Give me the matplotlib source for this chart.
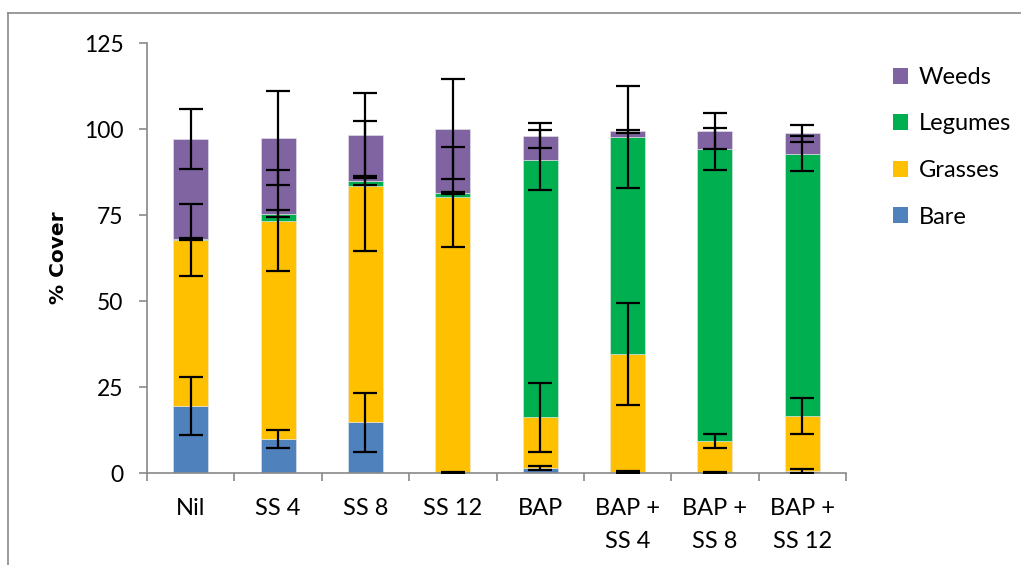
'''
Stacked ground cover by treatment, with standard error bars
on the top of each cover class.
'''

import numpy as np
import matplotlib.pyplot as plt
from matplotlib.lines import Line2D
from matplotlib.patches import Patch
from matplotlib.font_manager import FontProperties

plt.rcParams['font.family'] = ['Lato', 'DejaVu Sans']

categories = ["Nil", "SS 4", "SS 8", "SS 12", "BAP",
              "BAP +\nSS 4", "BAP +\nSS 8", "BAP +\nSS 12"]

# mean % cover of each class (stacked bottom to top)
bare = [19.5, 9.9, 14.7, 0.1, 1.4, 0.3, 0.1, 0.6]
grasses = [48.2, 63.5, 68.7, 80.2, 14.8, 34.2, 9.1, 15.9]
legumes = [0.3, 2.0, 1.6, 1.0, 74.9, 63.2, 84.9, 76.3]
weeds = [29.1, 21.9, 13.2, 18.6, 7.0, 1.6, 5.3, 5.9]

# standard errors
bare_err = [8.5, 2.7, 8.7, 0.1, 0.6, 0.3, 0.1, 0.6]
grasses_err = [10.5, 14.6, 19.0, 14.5, 10.1, 14.8, 2.0, 5.2]
legumes_err = [0.3, 1.1, 1.2, 0.3, 8.7, 14.9, 6.1, 5.1]
weeds_err = [8.7, 13.7, 12.3, 14.5, 3.6, 0.5, 5.2, 2.6]

series = [("Bare", bare, bare_err, '#4F81BD'),
          ("Grasses", grasses, grasses_err, '#FFC000'),
          ("Legumes", legumes, legumes_err, '#00B050'),
          ("Weeds", weeds, weeds_err, '#8064A2')]

GRAY = '#898989'


def main():
    fig = plt.figure(figsize=(10.21, 5.65), dpi=100)
    ax = fig.add_axes([147 / 1021, 92 / 565, 699 / 1021, 430 / 565])

    x = np.arange(len(categories))
    bottom = np.zeros(len(categories))

    # draw the stacked bars, keep the tops for the error bars
    tops = []
    for name, vals, errs, color in series:
        vals = np.array(vals)
        ax.bar(x, vals, 0.4, bottom=bottom, color=color,
               edgecolor='#e8e8e8', linewidth=0.4, zorder=2)
        bottom = bottom + vals
        tops.append((bottom.copy(), errs))

    for top, errs in tops:
        ax.errorbar(x, top, yerr=errs, fmt='none', ecolor='black',
                    elinewidth=1.6, capsize=8.5, capthick=1.6, zorder=3)

    ax.set_xlim(-0.5, len(categories) - 0.5)
    ax.set_ylim(0, 125)
    ax.set_yticks(np.arange(0, 126, 25))

    # separator ticks between categories, labels sit on minor ticks
    ax.set_xticks(np.arange(-0.5, len(categories), 1.0))
    ax.set_xticklabels([])
    ax.set_xticks(x, minor=True)
    ax.set_xticklabels(categories, minor=True, fontsize=17, linespacing=1.68)
    ax.tick_params(axis='x', which='major', direction='out', length=6,
                   width=1.2, color=GRAY)
    ax.tick_params(axis='x', which='minor', length=0, pad=18)
    ax.tick_params(axis='y', direction='out', length=6, width=1.2,
                   color=GRAY, labelsize=16.5, pad=11)

    for side in ('top', 'right'):
        ax.spines[side].set_visible(False)
    for side in ('left', 'bottom'):
        ax.spines[side].set_color(GRAY)
        ax.spines[side].set_linewidth(1.2)

    label_font = FontProperties(family='DejaVu Sans', weight='bold', size=14.5)
    ax.set_ylabel("% Cover", fontproperties=label_font, labelpad=11)

    handles = [Patch(facecolor=c, label=n) for n, v, e, c in reversed(series)]
    fig.legend(handles=handles, loc='upper left',
               bbox_to_anchor=(893 / 1021, 1 - 67 / 565), frameon=False,
               fontsize=17, handlelength=0.65, handleheight=0.65,
               handletextpad=0.45, labelspacing=1.08, borderpad=0,
               borderaxespad=0)

    # chart area border (top and left edges)
    fig.add_artist(Line2D([8 / 1021, 1.0], [1 - 13 / 565, 1 - 13 / 565],
                          color=GRAY, linewidth=1.2))
    fig.add_artist(Line2D([8 / 1021, 8 / 1021], [0.0, 1 - 13 / 565],
                          color=GRAY, linewidth=1.2))

    fig.savefig('out.png', dpi=100)


if __name__ == "__main__":
    main()
